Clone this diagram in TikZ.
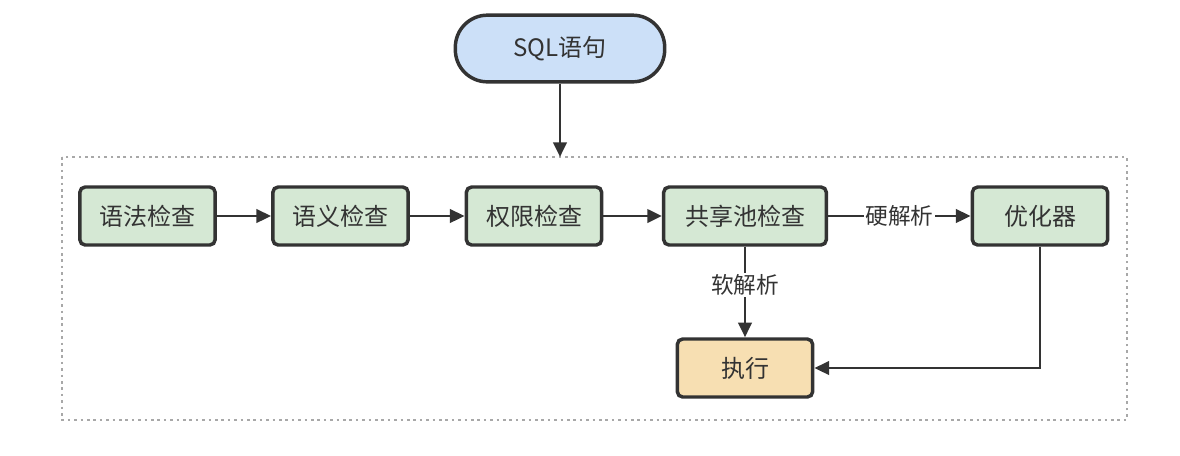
\documentclass[tikz,border=0pt]{standalone}
\usepackage{fontspec}
\setmainfont{Noto Sans CJK SC}
\usetikzlibrary{arrows.meta}
\definecolor{edge}{HTML}{333333}
\definecolor{txt}{HTML}{333333}
\definecolor{greenfill}{HTML}{D5E8D4}
\definecolor{bluefill}{HTML}{CCE0F8}
\definecolor{orangefill}{HTML}{F7DFB2}
\definecolor{dotgray}{HTML}{A8A8A8}
\tikzset{
  box/.style={draw=edge, line width=2.6pt, rounded corners=4pt, fill=greenfill,
    minimum width=101.5pt, minimum height=43.5pt, inner sep=0pt, text=txt,
    font=\fontsize{18}{21}\selectfont},
  conn/.style={draw=edge, line width=2.2pt, -{Triangle[length=11pt,width=10pt]}},
  lbl/.style={fill=white, text=txt, inner sep=1pt, font=\fontsize{17}{19}\selectfont},
}
\begin{document}
\begin{tikzpicture}[x=0.75pt,y=-0.75pt]
\useasboundingbox (0,0) rectangle (1180,455);
\fill[white] (0,0) rectangle (1180,455);
\draw[dotgray, line width=2pt, dash pattern=on 2pt off 2.8pt] (62,157) rectangle (1127,420);
\coordinate (top) at (560,157);
\node[box, fill=bluefill, rounded corners=24pt, minimum width=157pt, minimum height=50pt] (sql) at (560,48.5) {SQL语句};
\node[box] (a) at (147.5,216) {语法检查};
\node[box] (b) at (340.5,216) {语义检查};
\node[box] (c) at (534,216) {权限检查};
\node[box, minimum width=122pt] (d) at (745,216) {共享池检查};
\node[box] (e) at (1040,216) {优化器};
\node[box, fill=orangefill] (f) at (745,368) {执行};
\draw[conn] (sql) -- (top);
\draw[conn] (a) -- (b);
\draw[conn] (b) -- (c);
\draw[conn] (c) -- (d);
\draw[conn] (d) -- node[lbl] {硬解析} (e);
\draw[conn] (d) -- node[lbl, pos=0.42] {软解析} (f);
\draw[conn] (e.south) |- (f.east);
\end{tikzpicture}
\end{document}
